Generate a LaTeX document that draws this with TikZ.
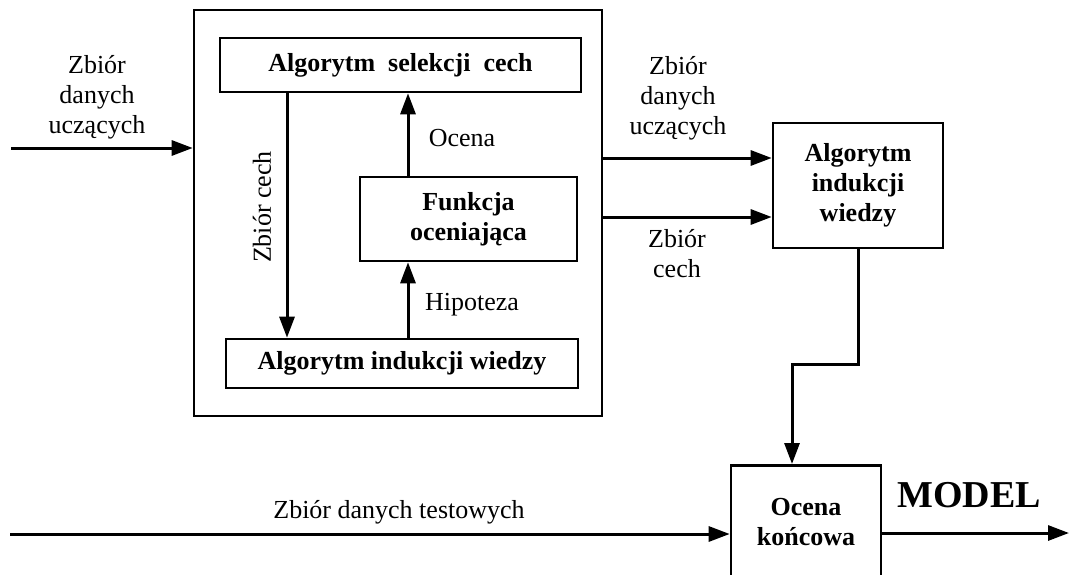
\documentclass[tikz,border=0pt]{standalone}
\usepackage{fontspec}
\setmainfont{Liberation Serif}
\usetikzlibrary{arrows.meta}
\begin{document}
\begin{tikzpicture}[x=1pt,y=-1pt,
  box/.style={draw, line width=2.6pt, rectangle, inner sep=0pt, align=center, font=\fontsize{26}{30}\selectfont\bfseries},
  lbl/.style={inner sep=0pt, align=center, font=\fontsize{26}{30}\selectfont},
  blbl/.style={inner sep=0pt, align=center, font=\fontsize{26}{30}\selectfont\bfseries},
  arr/.style={line width=3pt, -{Triangle[length=21pt,width=15pt]}}]
\useasboundingbox (0,0) rectangle (1070,575);

% boxes
\node[box, minimum width=408pt, minimum height=406pt] (outer) at (398,213) {};
\node[box, minimum width=361pt, minimum height=54pt] (sel) at (400.5,65) {Algorytm\ \ selekcji\ \ cech};
\node[box, minimum width=217pt, minimum height=84pt] (fun) at (468.5,219) {Funkcja\\oceniająca};
\node[box, minimum width=352pt, minimum height=49pt] (ind) at (402,363.5) {Algorytm indukcji wiedzy};
\node[box, minimum width=170pt, minimum height=125pt] (alg2) at (858,185.5) {Algorytm\\indukcji\\wiedzy};
\node[box, anchor=north, minimum width=150pt, minimum height=150pt] (ocena) at (806,464) {};
\node[blbl] (ocenatxt) at (806,522) {Ocena\\końcowa};
\node[inner sep=0pt, font=\fontsize{38}{40}\selectfont\bfseries] (model) at (969,495) {MODEL};

% inner arrows
\coordinate (zc) at (287,0);
\coordinate (oc) at (408,0);
\draw[arr] (sel.south -| zc) -- (ind.north -| zc);
\draw[arr] (fun.north -| oc) -- (sel.south -| oc);
\draw[arr] (ind.north -| oc) -- (fun.south -| oc);

% outer arrows
\coordinate (inL) at (11,148);
\draw[arr] (inL) -- (inL -| outer.west);
\coordinate (o1) at (602,158);
\coordinate (o2) at (602,217);
\draw[arr] (o1 -| outer.east) -- (o1 -| alg2.west);
\draw[arr] (o2 -| outer.east) -- (o2 -| alg2.west);
\coordinate (k) at (792,364);
\draw[arr] (alg2.south) |- (k) -- (k |- ocena.north);
\coordinate (tin) at (10,534);
\draw[arr] (tin) -- (tin -| ocena.west);
\coordinate (tout) at (1069,533);
\draw[arr] (tout -| ocena.east) -- (tout);

% labels
\node[lbl] (lin) at (97,97) {Zbiór\\danych\\uczących};
\node[lbl, rotate=90] (lzc) at (262,207) {Zbiór cech};
\node[lbl] (locena) at (462,138) {Ocena};
\node[lbl] (lhip) at (472,305) {Hipoteza};
\node[lbl] (lout1) at (678,98) {Zbiór\\danych\\uczących};
\node[lbl] (lout2) at (677,254) {Zbiór\\cech};
\node[lbl] (ltest) at (399,512) {Zbiór danych testowych};
\end{tikzpicture}
\end{document}
